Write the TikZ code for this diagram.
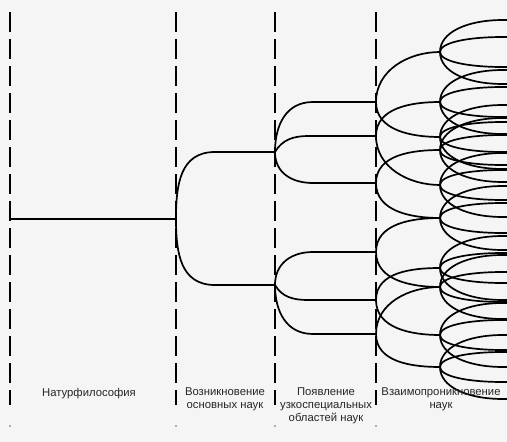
\documentclass[tikz,border=0pt]{standalone}
\usepackage{fontspec}
\setmainfont{Liberation Sans}
\begin{document}
\begin{tikzpicture}[x=1pt,y=1pt,
  tree/.style={line width=1.7pt, line join=round, line cap=round},
  sep/.style={line width=1.3pt, dash pattern=on 20pt off 7pt},
  lbl/.style={font=\fontsize{11.3}{13}\selectfont, align=center, anchor=north, inner sep=0pt, text=black!85}]
\useasboundingbox (0,0) rectangle (507,-442);
\fill[black!4] (0,0) rectangle (507,-442);
% separators
\foreach \sx in {10,176,275,376}{
  \coordinate (st\sx) at (\sx,-12);
  \coordinate (sb\sx) at (\sx,-405);
  \draw[sep] (st\sx) -- (sb\sx);
  \fill[black!60] (\sx,-426) circle (0.9);
}
\begin{scope}
\clip (0,0) rectangle (507,-442);
% level 0/1
\coordinate (root) at (10,-219);
\coordinate (a) at (176,-219);
\coordinate (b1) at (215,-152);
\coordinate (c1) at (275,-152);
\coordinate (b2) at (215,-285);
\coordinate (c2) at (275,-285);
\draw[tree] (root) -- (a);
\draw[tree] (a) to[out=90,in=180,looseness=1.15] (b1) -- (c1);
\draw[tree] (a) to[out=270,in=180,looseness=1.15] (b2) -- (c2);
% level 2
\coordinate (d1) at (313,-102); \coordinate (e1) at (376,-102);
\coordinate (d2) at (308,-136); \coordinate (e2) at (376,-136);
\coordinate (d3) at (313,-183); \coordinate (e3) at (376,-183);
\coordinate (d4) at (313,-252); \coordinate (e4) at (376,-252);
\coordinate (d5) at (308,-300); \coordinate (e5) at (376,-300);
\coordinate (d6) at (313,-334); \coordinate (e6) at (376,-334);
\draw[tree] (c1) to[out=90,in=180,looseness=1.1] (d1) -- (e1);
\draw[tree] (c1) to[out=60,in=180] (d2) -- (e2);
\draw[tree] (c1) to[out=270,in=180,looseness=1.1] (d3) -- (e3);
\draw[tree] (c2) to[out=90,in=180,looseness=1.1] (d4) -- (e4);
\draw[tree] (c2) to[out=-60,in=180] (d5) -- (e5);
\draw[tree] (c2) to[out=270,in=180,looseness=1.1] (d6) -- (e6);
% level 4 nodes
\foreach \v in {52,102,137,150,185,218,268,287,335,367}{
  \coordinate (m\v) at (440,-\v);
}
% level 3
\foreach \s/\u/\w in {e1/52/137, e2/102/185, e3/150/218, e4/218/287, e5/268/335, e6/287/367}{
  \draw[tree] (\s) to[out=90,in=180] (m\u);
  \draw[tree] (\s) to[out=270,in=180] (m\w);
}
% level 4
\foreach \v in {52,102,137,150,185,218,268,287,335,367}{
  \foreach \d in {15,32}{
    \draw[tree] (m\v) .. controls +(0,\d*0.62) and +(-36,0) .. (503,-\v+\d) -- (520,-\v+\d);
    \draw[tree] (m\v) .. controls +(0,-\d*0.62) and +(-36,0) .. (503,-\v-\d) -- (520,-\v-\d);
  }
}
\end{scope}
% labels
\node[lbl] (l1) at (89,-388) {Натурфилософия};
\node[lbl] (l2) at (225,-388) {Возникновение\\основных наук};
\node[lbl] (l3) at (326,-388) {Появление\\узкоспециальных\\областей наук};
\node[lbl] (l4) at (441,-388) {Взаимопроникновение\\наук};
\end{tikzpicture}
\end{document}
